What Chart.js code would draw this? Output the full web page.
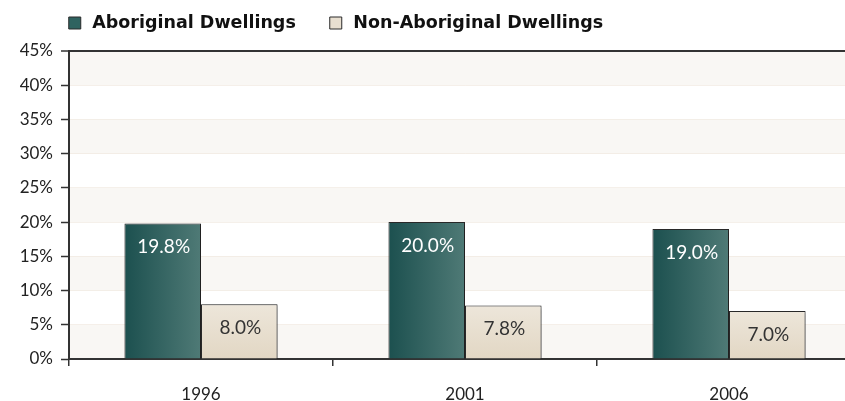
<!DOCTYPE html>
<html><head><meta charset="utf-8">
<script src="https://cdn.jsdelivr.net/npm/chart.js@4"></script>
<style>
html,body{margin:0;padding:0;background:#fff;overflow:hidden;width:845px;height:401px}
#wrap{position:absolute;left:0;top:0;width:862px;height:401px}
</style>
</head><body>
<div id="wrap"><canvas id="c" width="862" height="401"></canvas></div>
<script>
// ---- data ----
const categories = ['1996', '2001', '2006'];
const seriesNames = ['Aboriginal Dwellings', 'Non-Aboriginal Dwellings'];
const aboriginal = [19.8, 20.0, 19.0];
const nonAboriginal = [8.0, 7.8, 7.0];
const yMin = 0, yMax = 45, yStep = 5;

// ---- style ----
const FONT = 'Lato';
const LEG_FONT = '"DejaVu Sans"';
const LEG_SIZE = 17.5;
const mc = document.createElement('canvas').getContext('2d');
mc.font = 'bold ' + LEG_SIZE + 'px ' + LEG_FONT;
const tw1 = mc.measureText(seriesNames[0]).width;
const item1X = 66, item2X = 327;
const legPad = Math.max(4, item2X - item1X - (LEG_SIZE + LEG_SIZE / 2 + tw1));

const legendPos = {
  id: 'legendPos',
  afterLayout(chart) {
    const lg = chart.legend;
    if (!lg) return;
    lg.left = item1X - legPad;
    lg.top = 23 - LEG_SIZE / 2 - legPad;
  }
};

const bands = {
  id: 'bands',
  beforeDraw(chart) {
    const {ctx, chartArea: a, scales: {y}} = chart;
    ctx.save();
    ctx.fillStyle = '#f9f7f4';
    const t = y.ticks;
    for (let i = 0; i + 1 < t.length; i += 2) {
      const y0 = y.getPixelForValue(t[i].value);
      const y1 = y.getPixelForValue(t[i + 1].value);
      ctx.fillRect(a.left, y1, a.right - a.left, y0 - y1);
    }
    ctx.restore();
  }
};

const barStyle = {
  id: 'barStyle',
  beforeDatasetsDraw(chart) {
    const ctx = chart.ctx;
    chart.data.datasets.forEach((ds, di) => {
      const meta = chart.getDatasetMeta(di);
      meta.data.forEach(el => {
        const {x, y, base, width} = el.getProps(['x', 'y', 'base', 'width'], true);
        let g;
        if (di === 0) {
          g = ctx.createLinearGradient(x - width / 2, 0, x + width / 2, 0);
          g.addColorStop(0, '#1c504f');
          g.addColorStop(1, '#4f7a76');
        } else {
          g = ctx.createLinearGradient(0, y, 0, base);
          g.addColorStop(0, '#ede6da');
          g.addColorStop(1, '#e2d7c4');
        }
        try { el.options.backgroundColor = g; } catch (e) {}
      });
    });
    ctx.save();
    ctx.shadowColor = 'rgba(0,0,0,0.28)';
    ctx.shadowBlur = 3;
    ctx.shadowOffsetX = 2;
    ctx.shadowOffsetY = 1;
  },
  afterDatasetsDraw(chart) {
    const ctx = chart.ctx;
    ctx.restore();
    ctx.save();
    ctx.font = '19px ' + FONT;
    ctx.textAlign = 'center';
    ctx.textBaseline = 'middle';
    chart.data.datasets.forEach((ds, di) => {
      const meta = chart.getDatasetMeta(di);
      ctx.fillStyle = di === 0 ? '#ffffff' : '#333333';
      meta.data.forEach((el, i) => {
        ctx.fillText(Number(ds.data[i]).toFixed(1) + '%', el.x + 1, el.y + 23.5);
      });
    });
    ctx.restore();
  }
};

new Chart(document.getElementById('c'), {
  type: 'bar',
  data: {
    labels: categories,
    datasets: [
      {label: seriesNames[0], data: aboriginal, backgroundColor: () => '#2f6360', borderColor: '#2a2a2a', borderWidth: 1},
      {label: seriesNames[1], data: nonAboriginal, backgroundColor: () => '#e8dfd0', borderColor: '#2a2a2a', borderWidth: 1}
    ]
  },
  options: {
    responsive: false,
    animation: false,
    events: [],
    layout: {padding: {left: 0, right: 1, top: 0, bottom: 0}},
    datasets: {bar: {categoryPercentage: 0.58, barPercentage: 1}},
    plugins: {
      tooltip: {enabled: false},
      legend: {
        position: 'top',
        align: 'start',
        maxHeight: 51,
        labels: {
          usePointStyle: true,
          pointStyle: 'rect',
          boxWidth: LEG_SIZE,
          boxHeight: 12,
          padding: legPad,
          color: '#111',
          font: {family: LEG_FONT, size: LEG_SIZE, weight: 'bold'}
        }
      }
    },
    scales: {
      x: {
        afterFit(s) { s.height = 42; },
        grid: {drawOnChartArea: false, color: '#333', tickColor: '#333', tickLength: 7, lineWidth: 1.5},
        border: {color: '#333', width: 2},
        ticks: {color: '#222', padding: 18, font: {family: FONT, size: 17}}
      },
      y: {
        min: yMin, max: yMax,
        afterFit(s) { s.width = 69; },
        grid: {
          color: c => (c.tick && c.tick.value === yMax) ? '#333' : 'rgba(236,228,216,0.55)',
          lineWidth: c => (c.tick && c.tick.value === yMax) ? 2 : 1,
          tickColor: '#333', tickLength: 8, tickWidth: 1.5
        },
        border: {color: '#333', width: 2},
        ticks: {stepSize: yStep, color: '#222', padding: 8, font: {family: FONT, size: 17},
          callback: v => v + '%'}
      }
    }
  },
  plugins: [legendPos, bands, barStyle]
});
</script>
</body></html>
